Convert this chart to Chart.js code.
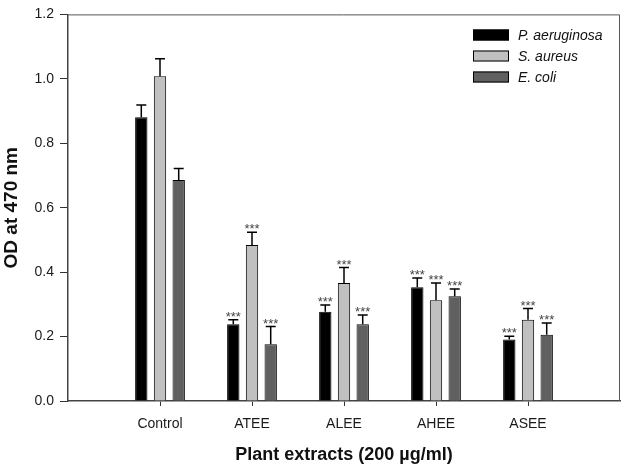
<!DOCTYPE html>
<html>
<head>
<meta charset="utf-8">
<script src="https://cdn.jsdelivr.net/npm/chart.js@4"></script>
<style>
  body { margin: 0; background: #fff; }
  #wrap { width: 630px; height: 468px; }
</style>
</head>
<body>
<div id="wrap"><canvas id="odChart" width="630" height="468"></canvas></div>
<script>
// data
const categories = ['Control', 'ATEE', 'ALEE', 'AHEE', 'ASEE'];
const seriesNames = ['P. aeruginosa', 'S. aureus', 'E. coli'];
const pAeruginosa = [0.881, 0.238, 0.277, 0.353, 0.191];
const sAureus     = [1.008, 0.484, 0.366, 0.313, 0.252];
const eColi       = [0.686, 0.176, 0.238, 0.325, 0.206];
// upper error (SD)
const pAeruginosaErr = [0.038, 0.014, 0.021, 0.029, 0.010];
const sAureusErr     = [0.054, 0.040, 0.048, 0.053, 0.035];
const eColiErr       = [0.036, 0.055, 0.029, 0.023, 0.036];
// significance marks
const stars = ['', '***', '***', '***', '***'];
const yTicks = [0, 0.2, 0.4, 0.6, 0.8, 1.0, 1.2];

const colors = ['#000000', '#c0c0c0', '#606060'];

// pad with an empty slot at each end so groups sit at 1..5 of 0..6
const labels = [''].concat(categories, ['']);
const pad = arr => [null].concat(arr, [null]);

const errPlugin = {
  id: 'errBars',
  afterDatasetsDraw(chart) {
    const ctx = chart.ctx;
    const y = chart.scales.y;
    const errs = [pAeruginosaErr, sAureusErr, eColiErr];
    chart.data.datasets.forEach((ds, di) => {
      const meta = chart.getDatasetMeta(di);
      meta.data.forEach((bar, i) => {
        const v = ds.data[i];
        if (v == null) return;
        const k = i - 1;
        const top = y.getPixelForValue(v + errs[di][k]);
        ctx.save();
        ctx.strokeStyle = '#000';
        ctx.lineWidth = 1.5;
        ctx.beginPath();
        ctx.moveTo(bar.x, bar.y);
        ctx.lineTo(bar.x, top);
        ctx.moveTo(bar.x - 5, top);
        ctx.lineTo(bar.x + 5, top);
        ctx.stroke();
        if (stars[k]) {
          ctx.fillStyle = '#444';
          ctx.font = '13px "Liberation Sans", Arial, sans-serif';
          ctx.textAlign = 'center';
          ctx.textBaseline = 'alphabetic';
          ctx.fillText(stars[k], bar.x, top + 1);
        }
        ctx.restore();
      });
    });
  }
};

const framePlugin = {
  id: 'frame',
  afterDraw(chart) {
    const {ctx, chartArea: a} = chart;
    ctx.save();
    ctx.strokeStyle = '#555';
    ctx.lineWidth = 1;
    ctx.beginPath();
    ctx.moveTo(a.left, a.top + 0.5);
    ctx.lineTo(a.right - 0.5, a.top + 0.5);
    ctx.lineTo(a.right - 0.5, a.bottom);
    ctx.stroke();

    // legend, top right inside the plot
    chart.data.datasets.forEach((ds, i) => {
      const cy = 35 + i * 21;
      ctx.fillStyle = ds.backgroundColor;
      ctx.fillRect(473, cy - 5.5, 36, 11);
      ctx.strokeStyle = '#000';
      ctx.strokeRect(473.5, cy - 5, 35, 10);
      ctx.fillStyle = '#111';
      ctx.font = 'italic 14px "Liberation Sans", Arial, sans-serif';
      ctx.textBaseline = 'middle';
      ctx.textAlign = 'left';
      ctx.fillText(ds.label, 518, cy + 1);
    });
    ctx.restore();
  }
};

new Chart(document.getElementById('odChart'), {
  type: 'bar',
  data: {
    labels: labels,
    datasets: [
      { label: seriesNames[0], data: pad(pAeruginosa), backgroundColor: colors[0], borderColor: '#000', borderWidth: 1 },
      { label: seriesNames[1], data: pad(sAureus), backgroundColor: colors[1], borderColor: '#000', borderWidth: 1 },
      { label: seriesNames[2], data: pad(eColi), backgroundColor: colors[2], borderColor: '#000', borderWidth: 1 }
    ]
  },
  options: {
    responsive: false,
    animation: false,
    layout: { padding: { top: 7, right: 2, left: 0, bottom: 0 } },
    categoryPercentage: 0.61,
    barPercentage: 0.66,
    plugins: {
      legend: { display: false },
      tooltip: { enabled: false }
    },
    scales: {
      x: {
        offset: false,
        grid: {
          offset: false,
          drawOnChartArea: false,
          tickLength: 5,
          tickColor: c => (c.index === 0 || c.index === labels.length - 1) ? 'rgba(0,0,0,0)' : '#333'
        },
        border: { color: '#444', width: 1.5 },
        ticks: {
          color: '#1a1a1a',
          padding: 10,
          maxRotation: 0,
          autoSkip: false,
          font: { family: '"Liberation Sans", Arial, sans-serif', size: 14 }
        },
        title: {
          display: true,
          text: 'Plant extracts (200 µg/ml)',
          color: '#111',
          padding: { top: 0, bottom: 2 },
          font: { family: '"Liberation Sans", Arial, sans-serif', size: 18, weight: 'bold' }
        },
        afterFit: s => { s.height = 67; }
      },
      y: {
        min: 0,
        max: 1.2,
        afterBuildTicks: s => { s.ticks = yTicks.map(v => ({ value: v })); },
        grid: { drawOnChartArea: false, tickLength: 8, tickColor: '#333' },
        border: { color: '#444', width: 1.5 },
        ticks: {
          color: '#1a1a1a',
          padding: 6,
          callback: v => Number(v).toFixed(1),
          font: { family: '"Liberation Sans", Arial, sans-serif', size: 14 }
        },
        title: {
          display: true,
          text: 'OD at 470 nm',
          color: '#111',
          padding: { top: 0, bottom: 0 },
          font: { family: '"Liberation Sans", Arial, sans-serif', size: 19, weight: 'bold' }
        },
        afterFit: s => { s.width = 68; }
      }
    }
  },
  plugins: [errPlugin, framePlugin]
});
</script>
</body>
</html>
